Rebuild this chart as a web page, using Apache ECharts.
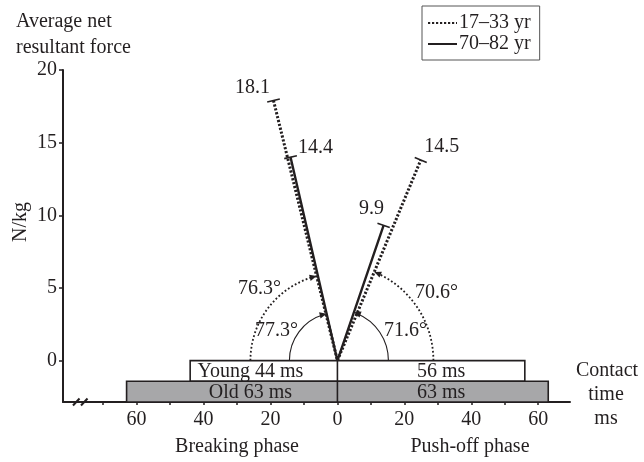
<!DOCTYPE html>
<html><head><meta charset="utf-8">
<script src="https://cdn.jsdelivr.net/npm/echarts@6/dist/echarts.min.js"></script>
<style>html,body{margin:0;padding:0;background:#fff}#c{width:644px;height:462px}</style>
</head><body><div id="c"></div>
<script>
// ---------------- data ----------------
const groups = ['17–33 yr', '70–82 yr'];
const phases = ['Breaking phase', 'Push-off phase'];
// vector end points [contact time ms, N/kg] as drawn in the picture
const youngEnds = [[-19.1, 17.9], [24.9, 13.8]];
const oldEnds = [[-14.0, 14.0], [13.8, 9.3]];
const youngMagnitudes = [18.1, 14.5];
const oldMagnitudes = [14.4, 9.9];
const youngAngles = [76.3, 70.6];
const oldAngles = [77.3, 71.6];
const contactNames = ['Young', 'Old'];
const youngContact = [44, 56];   // breaking, push-off (ms)
const oldContact = [63, 63];
const xTickValues = [-70, -60, -50, -40, -30, -20, -10, 0, 10, 20, 30, 40, 50, 60];
const xLabelValues = [-60, -40, -20, 0, 20, 40, 60];
const yTickValues = [0, 5, 10, 15, 20];

// ---------------- layout / style ----------------
const FONT = '"Liberation Serif", "Times New Roman", serif';
const INK = '#231f20';
const FS = 20;
const bands = [[0, -1.42], [-1.42, -2.85]];           // y-extent of the two contact bars
const barFill = ['#ffffff', '#a7a7a9'];
const barLabelX = [[-26, 31], [-26, 31]];              // label centres inside bars (ms)
const youngLabelOffset = [[-21, -13], [21, -13]];
const oldLabelOffset = [[25, -9], [-12, -17]];
const youngArcR = [87, 96];
const oldArcR = [48, 51];
const youngAngleOffset = [[-78, -72], [99, -68]];
const oldAngleOffset = [[-61, -30], [68, -30]];

const chart = echarts.init(document.getElementById('c'));

function endTicks(ends, mags, offsets) {
  return {
    type: 'custom', coordinateSystem: 'cartesian2d', clip: false, z: 6, silent: true,
    data: ends,
    renderItem(params, api) {
      const i = params.dataIndex;
      const p = api.coord([api.value(0), api.value(1)]);
      const o = api.coord([0, 0]);
      const dx = p[0] - o[0], dy = p[1] - o[1];
      const L = Math.hypot(dx, dy);
      const nx = -dy / L * 6.5, ny = dx / L * 6.5;
      return { type: 'group', children: [
        { type: 'line', shape: { x1: p[0] - nx, y1: p[1] - ny, x2: p[0] + nx, y2: p[1] + ny },
          style: { stroke: INK, lineWidth: 1.6 } },
        { type: 'text', x: p[0] + offsets[i][0], y: p[1] + offsets[i][1],
          style: { text: String(mags[i]), font: FS + 'px ' + FONT, fill: INK, align: 'center', verticalAlign: 'middle' } }
      ] };
    }
  };
}

function angleArcs(ends, angles, radii, offsets, dashed) {
  return {
    type: 'custom', coordinateSystem: 'cartesian2d', clip: false, z: 5, silent: true,
    data: ends,
    renderItem(params, api) {
      const i = params.dataIndex;
      const x = api.value(0);
      const p = api.coord([x, api.value(1)]);
      const o = api.coord([0, 0]);
      let ang = Math.atan2(p[1] - o[1], p[0] - o[0]);
      const r = radii[i];
      const left = x < 0;
      let start, end, cw;
      if (left) { start = Math.PI; end = ang + 2 * Math.PI; cw = true; }
      else { start = 0; end = ang; cw = false; }
      const tip = [o[0] + r * Math.cos(ang), o[1] + r * Math.sin(ang)];
      let d = left ? [-Math.sin(ang), Math.cos(ang)] : [Math.sin(ang), -Math.cos(ang)];
      const n = [-d[1], d[0]];
      const AL = 7, AW = 3.2;
      const base = [tip[0] - d[0] * AL, tip[1] - d[1] * AL];
      return { type: 'group', children: [
        { type: 'arc', shape: { cx: o[0], cy: o[1], r: r, startAngle: start, endAngle: end + (cw ? -0.06 : 0.06), clockwise: cw },
          style: { stroke: INK, fill: null, lineWidth: dashed ? 1.8 : 1.1, lineDash: dashed ? [1.8, 2.2] : null } },
        { type: 'polygon', shape: { points: [tip, [base[0] + n[0] * AW, base[1] + n[1] * AW], [base[0] - n[0] * AW, base[1] - n[1] * AW]] },
          style: { fill: INK } },
        { type: 'text', x: o[0] + offsets[i][0], y: o[1] + offsets[i][1],
          style: { text: angles[i] + '°', font: FS + 'px ' + FONT, fill: INK, align: 'center', verticalAlign: 'middle' } }
      ] };
    }
  };
}

const barData = [
  [-youngContact[0], bands[0][0], youngContact[1], bands[0][1]],
  [-oldContact[0], bands[1][0], oldContact[1], bands[1][1]]
];
const contactTexts = [
  [contactNames[0] + ' ' + youngContact[0] + ' ms', youngContact[1] + ' ms'],
  [contactNames[1] + ' ' + oldContact[0] + ' ms', oldContact[1] + ' ms']
];

const option = {
  animation: false,
  backgroundColor: '#fff',
  textStyle: { fontFamily: FONT },
  grid: { left: 63, right: 74, top: 70, bottom: 60 },
  legend: {
    data: groups, orient: 'vertical', left: 422, top: 6,
    itemWidth: 29, itemHeight: 14, itemGap: 1,
    padding: [7, 9, 6, 5], borderColor: '#555', borderWidth: 1,
    selectedMode: false,
    itemStyle: { opacity: 0 },
    textStyle: { fontFamily: FONT, fontSize: FS, color: INK, padding: [0, 0, 0, -3] }
  },
  xAxis: {
    type: 'value', min: -82, max: 69.5,
    splitLine: { show: false },
    axisLine: { onZero: false, lineStyle: { color: INK, width: 2 } },
    axisTick: { show: true, length: 3, customValues: xTickValues, lineStyle: { color: INK, width: 1.5 } },
    axisLabel: { customValues: xLabelValues, formatter: v => String(Math.abs(v)), fontFamily: FONT, fontSize: FS, color: INK, margin: 8 }
  },
  yAxis: {
    type: 'value', min: -2.85, max: 20,
    splitLine: { show: false },
    axisLine: { show: true, onZero: false, lineStyle: { color: INK, width: 2 } },
    axisTick: { show: true, length: 4, customValues: yTickValues, lineStyle: { color: INK, width: 1.5 } },
    axisLabel: { customValues: yTickValues, fontFamily: FONT, fontSize: FS, color: INK, margin: 6 }
  },
  series: [
    {
      type: 'custom', coordinateSystem: 'cartesian2d', clip: false, z: 2, silent: true,
      data: barData,
      renderItem(params, api) {
        const i = params.dataIndex;
        const a = api.coord([api.value(0), api.value(1)]);
        const b = api.coord([api.value(2), api.value(3)]);
        const m0 = api.coord([0, api.value(1)]);
        const m1 = api.coord([0, api.value(3)]);
        const cy = (a[1] + b[1]) / 2;
        const lx = api.coord([barLabelX[i][0], 0])[0];
        const rx = api.coord([barLabelX[i][1], 0])[0];
        return { type: 'group', children: [
          { type: 'rect', shape: { x: a[0], y: a[1], width: b[0] - a[0], height: b[1] - a[1] },
            style: { fill: barFill[i], stroke: INK, lineWidth: 1.6 } },
          { type: 'line', shape: { x1: m0[0], y1: m0[1], x2: m1[0], y2: m1[1] }, style: { stroke: INK, lineWidth: 1.6 } },
          { type: 'text', x: lx, y: cy + 1, style: { text: contactTexts[i][0], font: FS + 'px ' + FONT, fill: INK, align: 'center', verticalAlign: 'middle' } },
          { type: 'text', x: rx, y: cy + 1, style: { text: contactTexts[i][1], font: FS + 'px ' + FONT, fill: INK, align: 'center', verticalAlign: 'middle' } }
        ] };
      }
    },
    {
      name: groups[0], type: 'line', symbol: 'none', z: 3, silent: true,
      data: [youngEnds[0], [0, 0], youngEnds[1]],
      lineStyle: { color: INK, width: 3, type: [2.2, 1.8], cap: 'butt' },
      itemStyle: { color: INK }
    },
    {
      name: groups[1], type: 'line', symbol: 'none', z: 4, silent: true,
      data: [oldEnds[0], [0, 0], oldEnds[1]],
      lineStyle: { color: INK, width: 2.4, type: 'solid' },
      itemStyle: { color: INK }
    },
    endTicks(youngEnds, youngMagnitudes, youngLabelOffset),
    endTicks(oldEnds, oldMagnitudes, oldLabelOffset),
    angleArcs(youngEnds, youngAngles, youngArcR, youngAngleOffset, true),
    angleArcs(oldEnds, oldAngles, oldArcR, oldAngleOffset, false)
  ],
  graphic: [
    { type: 'text', left: 16, top: 9, style: { text: 'Average net\nresultant force', font: FS + 'px ' + FONT, fill: INK, lineHeight: 26 } },
    { type: 'text', x: 21, y: 222, rotation: Math.PI / 2, style: { text: 'N/kg', font: FS + 'px ' + FONT, fill: INK, align: 'center', verticalAlign: 'middle' } },
    { type: 'text', x: 607, y: 371, style: { text: 'Contact', font: FS + 'px ' + FONT, fill: INK, align: 'center', verticalAlign: 'middle' } },
    { type: 'text', x: 606, y: 395, style: { text: 'time', font: FS + 'px ' + FONT, fill: INK, align: 'center', verticalAlign: 'middle' } },
    { type: 'text', x: 606, y: 419, style: { text: 'ms', font: FS + 'px ' + FONT, fill: INK, align: 'center', verticalAlign: 'middle' } },
    { type: 'text', x: 237, y: 447, style: { text: phases[0], font: FS + 'px ' + FONT, fill: INK, align: 'center', verticalAlign: 'middle' } },
    { type: 'text', x: 470, y: 447, style: { text: phases[1], font: FS + 'px ' + FONT, fill: INK, align: 'center', verticalAlign: 'middle' } },
    { type: 'rect', shape: { x: 72, y: 397, width: 18, height: 9 }, style: { fill: '#fff' } },
    { type: 'line', shape: { x1: 73, y1: 405.5, x2: 79.5, y2: 398.5 }, style: { stroke: INK, lineWidth: 2 } },
    { type: 'line', shape: { x1: 81, y1: 405.5, x2: 87.5, y2: 398.5 }, style: { stroke: INK, lineWidth: 2 } },
    { type: 'line', shape: { x1: 63, y1: 402, x2: 75, y2: 402 }, style: { stroke: INK, lineWidth: 2 } },
    { type: 'line', shape: { x1: 85, y1: 402, x2: 92, y2: 402 }, style: { stroke: INK, lineWidth: 2 } }
  ]
};
chart.setOption(option);
</script>
</body></html>
